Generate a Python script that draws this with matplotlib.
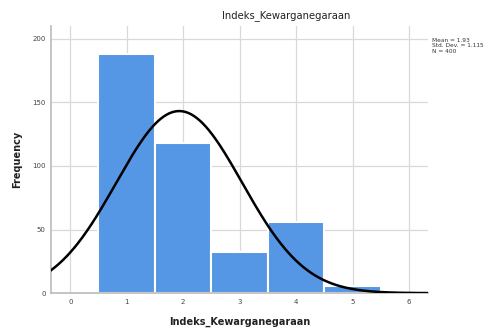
import numpy as np
import matplotlib.pyplot as plt

# histogram of Indeks_Kewarganegaraan
categories = [1, 2, 3, 4, 5]
frequency = [188, 118, 32, 56, 6]
mean = 1.93
std_dev = 1.115
n_total = 400

fig = plt.figure(figsize=(4.91, 3.29), dpi=100)
ax = fig.add_axes([0.104, 0.109, 0.768, 0.812])

ax.bar(categories, frequency, width=1.0, color="#5596e5",
       edgecolor="white", linewidth=1.5, zorder=2)

# fitted normal curve, scaled to counts (bin width 1)
x = np.linspace(-0.34, 6.34, 400)
y = n_total / (std_dev * np.sqrt(2 * np.pi)) * np.exp(-0.5 * ((x - mean) / std_dev) ** 2)
ax.plot(x, y, color="black", linewidth=1.8, zorder=3)

ax.set_xlim(-0.34, 6.34)
ax.set_ylim(0, 210)
ax.set_xticks(range(0, 7))
ax.set_yticks([0, 50, 100, 150, 200])
ax.grid(True, color="#d9d9d9", linewidth=0.9, zorder=0)
ax.set_axisbelow(True)
ax.tick_params(length=0, labelsize=5, colors="#444444", pad=4)

for s in ["top", "right"]:
    ax.spines[s].set_visible(False)
for s in ["left", "bottom"]:
    ax.spines[s].set_color("#bbbbbb")
    ax.spines[s].set_linewidth(1.2)

ax.set_xlabel("Indeks_Kewarganegaraan", fontsize=7, fontweight="bold",
              color="#222222", labelpad=9)
ax.set_ylabel("Frequency", fontsize=7, fontweight="bold",
              color="#222222", labelpad=7)

fig.text(286 / 491, 1 - 16 / 329, "Indeks_Kewarganegaraan", fontsize=7.2,
         ha="center", va="center", color="#222222")
fig.text(432 / 491, 1 - 38 / 329,
         f"Mean = {mean}\nStd. Dev. = {std_dev}\nN = {n_total}",
         fontsize=4.2, ha="left", va="top", color="#333333", linespacing=1.1)

fig.savefig("out.png", dpi=100)
